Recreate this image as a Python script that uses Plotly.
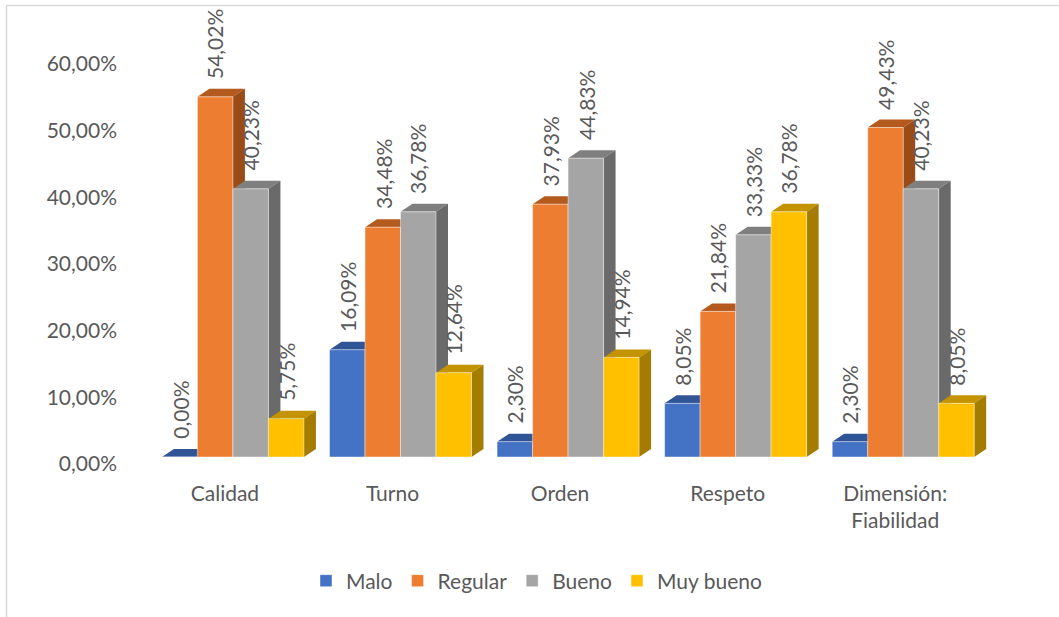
import plotly.graph_objects as go

# ---- data -------------------------------------------------------------
categories = ["Calidad", "Turno", "Orden", "Respeto", "Dimensión:<br>Fiabilidad"]
series_names = ["Malo", "Regular", "Bueno", "Muy bueno"]
malo = [0.00, 16.09, 2.30, 8.05, 2.30]
regular = [54.02, 34.48, 37.93, 21.84, 49.43]
bueno = [40.23, 36.78, 44.83, 33.33, 40.23]
muy_bueno = [5.75, 12.64, 14.94, 36.78, 8.05]
y_ticks = [0, 10, 20, 30, 40, 50, 60]

series_values = [malo, regular, bueno, muy_bueno]

# ---- style ------------------------------------------------------------
front_colors = ["#4472C4", "#ED7D31", "#A5A5A5", "#FFC000"]
top_colors = ["#2F5597", "#B45A1E", "#7F7F7F", "#C49300"]
side_colors = ["#2A4A85", "#9A4C18", "#6A6A6A", "#A47C00"]
text_color = "#595959"
font_family = "Lato, 'Open Sans', sans-serif"
font_size = 21

W, H = 1059, 617
PLOT_L, PLOT_R, PLOT_T, PLOT_B = 124, 987, 57, 457
X_RANGE = [-0.65, 4.5]
Y_RANGE = [0, 60]
BAR_PX = 35.5          # front face width in pixels
DEPTH_DX_PX = 12       # depth projection of the 3-D look
DEPTH_DY_PX = 8

px_per_x = (PLOT_R - PLOT_L) / (X_RANGE[1] - X_RANGE[0])
px_per_y = (PLOT_B - PLOT_T) / (Y_RANGE[1] - Y_RANGE[0])
bar_w = BAR_PX / px_per_x
depth_dx = DEPTH_DX_PX / px_per_x
depth_dy = DEPTH_DY_PX / px_per_y


def paper_x(px):
    return (px - PLOT_L) / (PLOT_R - PLOT_L)


def paper_y(py):
    return (PLOT_B - py) / (PLOT_B - PLOT_T)


def fmt(v):
    return f"{v:.2f}".replace(".", ",") + "%"


fig = go.Figure()
shapes = []
annotations = []
xs = list(range(len(categories)))

for k, (name, vals) in enumerate(zip(series_names, series_values)):
    offset = (k - 2) * bar_w
    fig.add_trace(go.Bar(
        x=xs, y=vals, name=name,
        offset=offset, width=bar_w,
        marker=dict(color=front_colors[k],
                    line=dict(color="rgba(255,255,255,0.45)", width=1)),
        hoverinfo="skip",
    ))
    for i, v in zip(xs, vals):
        x0 = i + offset
        x1 = x0 + bar_w
        # top face
        shapes.append(dict(
            type="path", xref="x", yref="y", layer="below",
            path=(f"M {x0},{v} L {x1},{v} L {x1 + depth_dx},{v + depth_dy} "
                  f"L {x0 + depth_dx},{v + depth_dy} Z"),
            fillcolor=top_colors[k], line=dict(width=0),
        ))
        # right side face
        shapes.append(dict(
            type="path", xref="x", yref="y", layer="below",
            path=(f"M {x1},0 L {x1},{v} L {x1 + depth_dx},{v + depth_dy} "
                  f"L {x1 + depth_dx},{depth_dy} Z"),
            fillcolor=side_colors[k], line=dict(width=0),
        ))
        annotations.append(dict(
            x=i + offset + bar_w / 2, y=v, xref="x", yref="y",
            text=fmt(v), showarrow=False, textangle=-90,
            xanchor="center", yanchor="bottom", yshift=16,
            font=dict(family=font_family, size=font_size, color=text_color),
        ))

# chart-area outline (top and left edges)
shapes.append(dict(type="line", xref="paper", yref="paper",
                   x0=paper_x(6.5), x1=paper_x(W + 5), y0=paper_y(5.5), y1=paper_y(5.5),
                   line=dict(color="#D9D9D9", width=1.5)))
shapes.append(dict(type="line", xref="paper", yref="paper",
                   x0=paper_x(6.5), x1=paper_x(6.5), y0=paper_y(5.5), y1=paper_y(H + 5),
                   line=dict(color="#D9D9D9", width=1.5)))

fig.update_layout(
    width=W, height=H,
    margin=dict(l=PLOT_L, r=W - PLOT_R, t=PLOT_T, b=H - PLOT_B, pad=0, autoexpand=False),
    paper_bgcolor="white", plot_bgcolor="white",
    barmode="overlay",
    separators=",.",
    font=dict(family=font_family, size=font_size, color=text_color),
    shapes=shapes,
    annotations=annotations,
    showlegend=True,
    legend=dict(orientation="h", xref="container", yref="container",
                x=537 / W, xanchor="center", y=1 - 581 / H, yanchor="middle",
                font=dict(family=font_family, size=font_size, color=text_color),
                itemclick=False, itemdoubleclick=False),
    xaxis=dict(
        range=X_RANGE, tickmode="array", tickvals=xs, ticktext=categories,
        showgrid=False, zeroline=False, showline=False, ticks="",
        ticklabelshift=-8, ticklabelstandoff=22, automargin=False,
        tickfont=dict(family=font_family, size=font_size, color=text_color),
    ),
    yaxis=dict(
        range=Y_RANGE, tickmode="array", tickvals=y_ticks,
        ticktext=[fmt(t) for t in y_ticks],
        showgrid=False, zeroline=False, showline=False, ticks="",
        ticklabelshift=7, ticklabelstandoff=6, automargin=False,
        tickfont=dict(family=font_family, size=font_size, color=text_color),
    ),
)

fig.write_html("out.html")
